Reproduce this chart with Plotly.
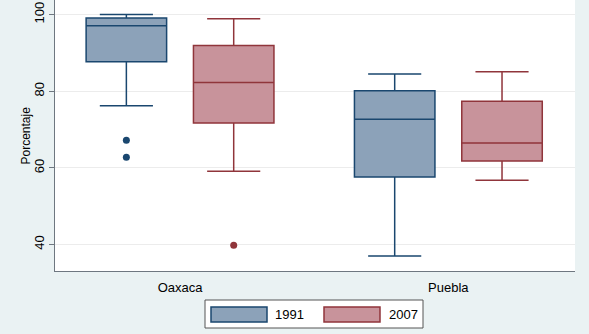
import plotly.graph_objects as go

categories = ["Oaxaca", "Puebla"]

# 1991 box statistics
q1_1991 = [87.7, 57.6]
med_1991 = [97.05, 72.7]
q3_1991 = [99.1, 80.1]
lo_1991 = [76.2, 37.0]
hi_1991 = [100.0, 84.5]
out_1991 = [[67.2, 62.8], []]

# 2007 box statistics
q1_2007 = [71.7, 61.8]
med_2007 = [82.3, 66.5]
q3_2007 = [91.9, 77.4]
lo_2007 = [59.1, 56.8]
hi_2007 = [98.9, 85.05]
out_2007 = [[39.8], []]

series_names = ["1991", "2007"]
y_ticks = [40, 60, 80, 100]
y_title = "Porcentaje"

FILL = ["#8ca2b9", "#c8939b"]
LINE = ["#1a476f", "#90353b"]
BG = "#eaf2f3"
FONT = "Liberation Sans, Arial, sans-serif"

fig = go.Figure()
stats = [
    (q1_1991, med_1991, q3_1991, lo_1991, hi_1991, out_1991),
    (q1_2007, med_2007, q3_2007, lo_2007, hi_2007, out_2007),
]
for i, (q1, med, q3, lo, hi, out) in enumerate(stats):
    fig.add_trace(go.Box(
        name=series_names[i],
        x=categories,
        y=out,
        q1=q1, median=med, q3=q3,
        lowerfence=lo, upperfence=hi,
        boxpoints="outliers",
        fillcolor=FILL[i],
        line=dict(color=LINE[i], width=1.5),
        marker=dict(color=LINE[i], size=7, line=dict(width=0)),
        whiskerwidth=0.66,
        showlegend=False,
    ))

W, H = 589, 334
ML, MR, MT, MB = 55, 14, 0, 63
pw, ph = W - ML - MR, H - MT - MB


def px(x):
    return (x - ML) / pw


def py(y):
    return (H - MB - y) / ph


shapes = [
    dict(type="rect", xref="paper", yref="paper",
         x0=px(205), x1=px(423), y0=py(328), y1=py(300),
         fillcolor="white", line=dict(color="#555555", width=1)),
]
annotations = [
    dict(text=y_title, xref="paper", yref="paper",
         x=px(25), y=0.5, showarrow=False, textangle=-90,
         xanchor="center", yanchor="middle",
         font=dict(family=FONT, size=12, color="black")),
]
legend_sw = [(211, 267, 289), (324, 380, 403)]
for i, (a, b, tx) in enumerate(legend_sw):
    shapes.append(dict(type="rect", xref="paper", yref="paper",
                       x0=px(a), x1=px(b), y0=py(322), y1=py(307),
                       fillcolor=FILL[i], line=dict(color=LINE[i], width=1.5)))
    annotations.append(dict(text=series_names[i], xref="paper", yref="paper",
                            x=px(tx), y=py(314.5), showarrow=False,
                            xanchor="center", yanchor="middle",
                            font=dict(family=FONT, size=13, color="black")))

fig.update_layout(
    width=W, height=H,
    margin=dict(l=ML, r=MR, t=MT, b=MB),
    paper_bgcolor=BG,
    plot_bgcolor="white",
    boxmode="group",
    boxgap=0.2,
    boxgroupgap=0.25,
    font=dict(family=FONT, size=12, color="black"),
    shapes=shapes,
    annotations=annotations,
    xaxis=dict(
        type="category",
        range=[-0.466, 1.472],
        showline=True, linecolor="#6e7780", linewidth=1,
        showgrid=False, ticks="",
        tickfont=dict(size=13),
        ticklabelstandoff=4,
        fixedrange=True,
    ),
    yaxis=dict(
        range=[33.1, 103.8],
        tickvals=y_ticks,
        tickangle=-90,
        showline=True, linecolor="#6e7780", linewidth=1,
        ticks="outside", ticklen=5, tickcolor="#6e7780",
        showgrid=True, gridcolor="#ececec", gridwidth=1,
        zeroline=False,
        tickfont=dict(size=13),
        fixedrange=True,
    ),
)

fig.write_html(
    "out.html",
    config={"displayModeBar": False},
    post_script="document.body.style.margin='0';document.body.style.overflow='hidden';",
)
